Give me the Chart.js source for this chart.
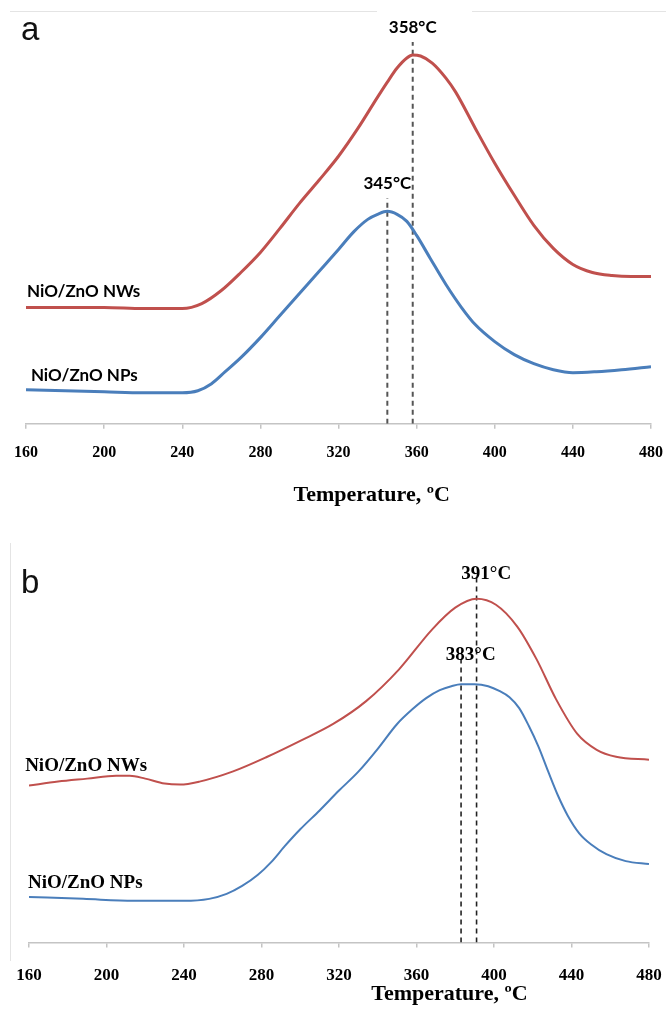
<!DOCTYPE html>
<html>
<head>
<meta charset="utf-8">
<script src="https://cdn.jsdelivr.net/npm/chart.js@4.4.0/dist/chart.umd.min.js"></script>
<style>
  body { margin: 0; background: #fff; }
  #wrap { position: relative; width: 666px; height: 1015px; overflow: hidden; }
  canvas { position: absolute; left: 0; }
  #chartA { top: 0; }
  #chartB { top: 520px; }
  .letter { position: absolute; font-family: 'Liberation Sans', Arial, sans-serif; font-size: 33px; line-height: 1; color: #111; }
  .rule { position: absolute; background: #e4e4e4; }
</style>
</head>
<body>
<div id="wrap">
  <div class="rule" style="left:10px; top:11px; width:367px; height:1px;"></div>
  <div class="rule" style="left:472px; top:11px; width:194px; height:1px;"></div>
  <div class="rule" style="left:10px; top:543px; width:1px; height:418px;"></div>
  <canvas id="chartA" width="666" height="520"></canvas>
  <canvas id="chartB" width="666" height="495"></canvas>
  <div class="letter" style="left:21px; top:12px;">a</div>
  <div class="letter" style="left:21px; top:565px;">b</div>
</div>
<script>
// Panel a - NiO/ZnO NWs (red) and NPs (blue), signal height in a.u.
const aNWsTemp = [160, 180, 200, 220, 240, 250, 260, 270, 280, 290, 300, 310, 320, 330, 340, 345, 350, 355, 358, 362, 368, 375, 380, 390, 400, 410, 420, 430, 440, 450, 460, 470, 480];
const aNWsVal  = [116, 116, 116, 115, 115, 120, 133, 151, 171, 195, 220, 243, 267, 295, 326, 341, 355, 365, 368, 367, 360, 345, 331, 295, 260, 228, 198, 175, 159, 151, 148, 147, 147];
const aNPsTemp = [160, 180, 200, 220, 240, 248, 255, 262, 270, 280, 290, 300, 310, 320, 328, 335, 340, 345, 350, 355, 360, 367, 375, 383, 390, 400, 410, 420, 430, 440, 452, 465, 480];
const aNPsVal  = [34, 33, 32, 31, 31, 33, 40, 52, 66, 86, 108, 130, 152, 174, 192, 204, 209, 212, 209, 202, 188, 165, 139, 116, 99, 82, 69, 60, 54, 51, 52, 54, 57];
const aPeaks = [345, 358];
const aPeakTop = [225, 381];

// Panel b
const bNWsTemp = [160, 175, 190, 205, 212, 220, 230, 238, 248, 265, 283, 300, 317, 334, 351, 368, 380, 391, 401, 412, 422, 432, 443, 453, 463, 480];
const bNWsVal  = [158, 162, 165, 168, 168, 165, 160, 159, 162, 172, 187, 203, 220, 243, 275, 315, 337, 346, 340, 318, 285, 245, 210, 194, 187, 184];
const bNPsTemp = [160, 188, 214, 240, 253, 262, 270, 278, 285, 292, 300, 310, 320, 330, 340, 350, 358, 365, 372, 378, 383, 390, 397, 403, 408, 413, 418, 423, 428, 433, 438, 444, 450, 458, 468, 480];
const bNPsVal  = [46, 44, 42, 42, 44, 49, 57, 68, 81, 97, 114, 133, 153, 172, 195, 220, 235, 246, 254, 258, 260, 260, 258, 253, 247, 236, 218, 197, 172, 148, 128, 110, 99, 89, 82, 79];
const bPeaks = [383, 391];
const bPeakTop = [285, 370];

const xTicks = [160, 200, 240, 280, 320, 360, 400, 440, 480];
const xTitle = 'Temperature, ºC';

const RED = '#c0504d';
const BLUE = '#4a7ebb';

const pts = (xs, ys) => xs.map((x, i) => ({ x: x, y: ys[i] }));

// draws the text items at data coordinates, through the chart's scales
const textPlugin = {
  id: 'panelText',
  afterDatasetsDraw(chart, args, opts) {
    const { ctx } = chart;
    const xs = chart.scales.x, ys = chart.scales.y;
    ctx.save();
    ctx.fillStyle = '#000';
    ctx.textBaseline = 'middle';
    opts.items.forEach(it => {
      ctx.font = it.font;
      ctx.textAlign = it.align || 'center';
      ctx.fillText(it.text, xs.getPixelForValue(it.x), ys.getPixelForValue(it.y));
    });
    ctx.restore();
  }
};

function peakLines(peaks, tops, color, width, dash) {
  return peaks.map((p, i) => ({
    data: [{ x: p, y: 0 }, { x: p, y: tops[i] }],
    borderColor: color,
    borderWidth: width,
    borderDash: dash,
    pointRadius: 0
  }));
}

function makeChart(id, cfg) {
  new Chart(document.getElementById(id), {
    type: 'line',
    data: {
      datasets: [
        { data: pts(cfg.nwsT, cfg.nwsV), borderColor: RED, borderWidth: cfg.lw, pointRadius: 0, cubicInterpolationMode: 'monotone' },
        { data: pts(cfg.npsT, cfg.npsV), borderColor: BLUE, borderWidth: cfg.lw, pointRadius: 0, cubicInterpolationMode: 'monotone' },
        ...peakLines(cfg.peaks, cfg.tops, cfg.dashColor, cfg.dashWidth, [5, 4])
      ]
    },
    options: {
      responsive: false,
      animation: false,
      layout: { padding: cfg.padding },
      scales: {
        x: {
          type: 'linear',
          min: 160,
          max: 480,
          afterBuildTicks: s => { s.ticks = xTicks.map(v => ({ value: v })); },
          // let the layout padding alone decide where the axis ends
          afterFit: s => { s.paddingLeft = 0; s.paddingRight = 0; },
          ticks: {
            color: '#000',
            padding: cfg.tickPad,
            maxRotation: 0,
            font: { family: 'Liberation Serif', weight: 'bold', size: cfg.tickSize }
          },
          grid: { drawOnChartArea: false, drawTicks: true, tickLength: 5, color: '#c4c4c4', lineWidth: 1.5 },
          border: { display: true, color: '#c4c4c4', width: 1.5 }
        },
        y: { display: false, min: 0, max: cfg.yMax }
      },
      plugins: {
        legend: { display: false },
        tooltip: { enabled: false },
        panelText: { items: cfg.texts }
      }
    },
    plugins: [textPlugin]
  });
}

const sansB = 'bold 17px Lato, "Open Sans", sans-serif';
const serifB = 'bold 19px "Liberation Serif", serif';

makeChart('chartA', {
  nwsT: aNWsTemp, nwsV: aNWsVal, npsT: aNPsTemp, npsV: aNPsVal,
  peaks: aPeaks, tops: aPeakTop,
  lw: 3, dashColor: '#555', dashWidth: 2,
  padding: { left: 26, right: 15, top: 40, bottom: 44 },
  tickPad: 14, tickSize: 16, yMax: 383,
  texts: [
    { text: '358°C', x: 358, y: 395, font: sansB },
    { text: '345°C', x: 345, y: 240, font: sansB },
    { text: 'NiO/ZnO NWs', x: 160.5, y: 132, font: sansB, align: 'left' },
    { text: 'NiO/ZnO NPs', x: 162.5, y: 48, font: sansB, align: 'left' },
    { text: xTitle, x: 337, y: -71, font: 'bold 22px "Liberation Serif", serif' }
  ]
});

makeChart('chartB', {
  nwsT: bNWsTemp, nwsV: bNWsVal, npsT: bNPsTemp, npsV: bNPsVal,
  peaks: bPeaks, tops: bPeakTop,
  lw: 2, dashColor: '#222', dashWidth: 1.6,
  padding: { left: 29, right: 17, top: 40, bottom: 11 },
  tickPad: 18, tickSize: 17, yMax: 385,
  texts: [
    { text: '391°C', x: 396, y: 371, font: serifB },
    { text: '383°C', x: 388, y: 289, font: serifB },
    { text: 'NiO/ZnO NWs', x: 158, y: 178, font: serifB, align: 'left' },
    { text: 'NiO/ZnO NPs', x: 159.5, y: 60, font: serifB, align: 'left' },
    { text: xTitle, x: 377, y: -52, font: 'bold 22px "Liberation Serif", serif' }
  ]
});
</script>
</body>
</html>
